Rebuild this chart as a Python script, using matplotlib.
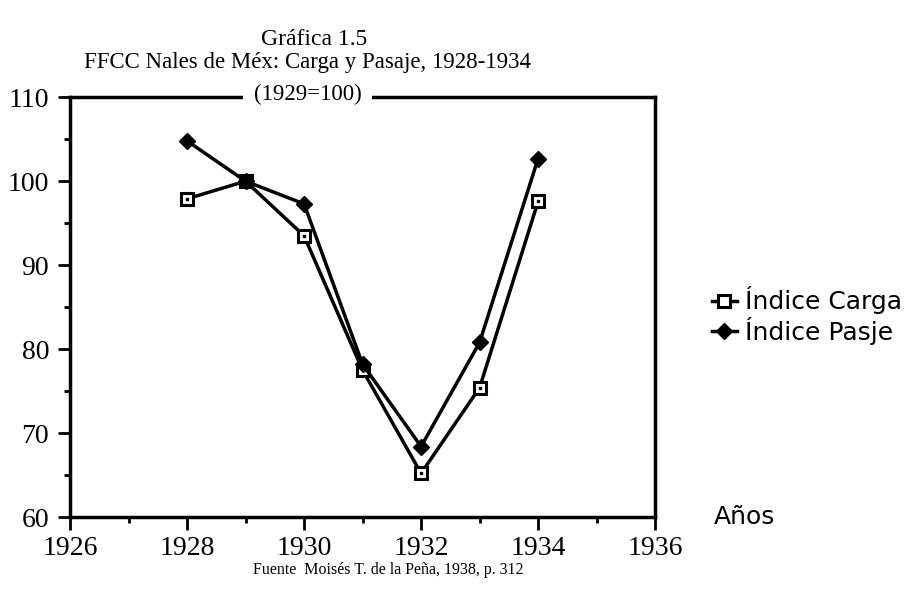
import matplotlib
matplotlib.use("Agg")
import matplotlib.pyplot as plt
from matplotlib.ticker import MultipleLocator

years = [1928, 1929, 1930, 1931, 1932, 1933, 1934]
carga = [97.9, 100.0, 93.5, 77.5, 65.2, 75.4, 97.6]
pasaje = [104.8, 100.0, 97.3, 78.2, 68.4, 80.8, 102.7]

plt.rcParams['font.family'] = ['Liberation Serif', 'DejaVu Serif']

fig = plt.figure(figsize=(9.15, 6.04), dpi=100)
ax = fig.add_axes([0.0765, 0.144, 0.6395, 0.695])

ax.plot(years, carga, color='black', lw=2.5, marker='s', ms=9,
        mfc='white', mec='black', mew=2.2, label='Índice Carga', zorder=3)
ax.plot(years, carga, ls='none', marker='s', ms=2, color='black', zorder=4)
ax.plot(years, pasaje, color='black', lw=2.5, marker='D', ms=8,
        mfc='black', mec='black', label='Índice Pasje', zorder=3)

ax.set_xlim(1926, 1936)
ax.set_ylim(60, 110)
ax.xaxis.set_major_locator(MultipleLocator(2))
ax.xaxis.set_minor_locator(MultipleLocator(1))
ax.yaxis.set_major_locator(MultipleLocator(10))
ax.yaxis.set_minor_locator(MultipleLocator(5))
ax.tick_params(which='major', direction='out', length=9, width=2, labelsize=20)
ax.tick_params(which='minor', direction='out', length=4, width=2)
ax.tick_params(axis='x', pad=5)
ax.tick_params(axis='y', pad=6)
for s in ax.spines.values():
    s.set_linewidth(2.5)

fig.text(0.343, 0.934, 'Gráfica 1.5', ha='center', va='center', fontsize=17)
fig.text(0.336, 0.896, 'FFCC Nales de Méx: Carga y Pasaje, 1928-1934',
         ha='center', va='center', fontsize=16.5)
fig.text(0.336, 0.843, '(1929=100)', ha='center', va='center', fontsize=16.5,
         bbox=dict(facecolor='white', edgecolor='none', pad=8), zorder=10)

leg = ax.legend(loc='center left', bbox_to_anchor=(1.075, 0.48), frameon=False,
                handlelength=1.0, handletextpad=0.35, borderpad=0,
                labelspacing=0.1, prop={'family': 'DejaVu Sans', 'size': 18})

ax.text(1.1, 0.0, 'Años', transform=ax.transAxes, ha='left', va='center',
        fontsize=18, family='DejaVu Sans')

fig.text(0.424, 0.056, 'Fuente  Moisés T. de la Peña, 1938, p. 312',
         ha='center', va='center', fontsize=11.5)

fig.savefig('out.png', dpi=100)
